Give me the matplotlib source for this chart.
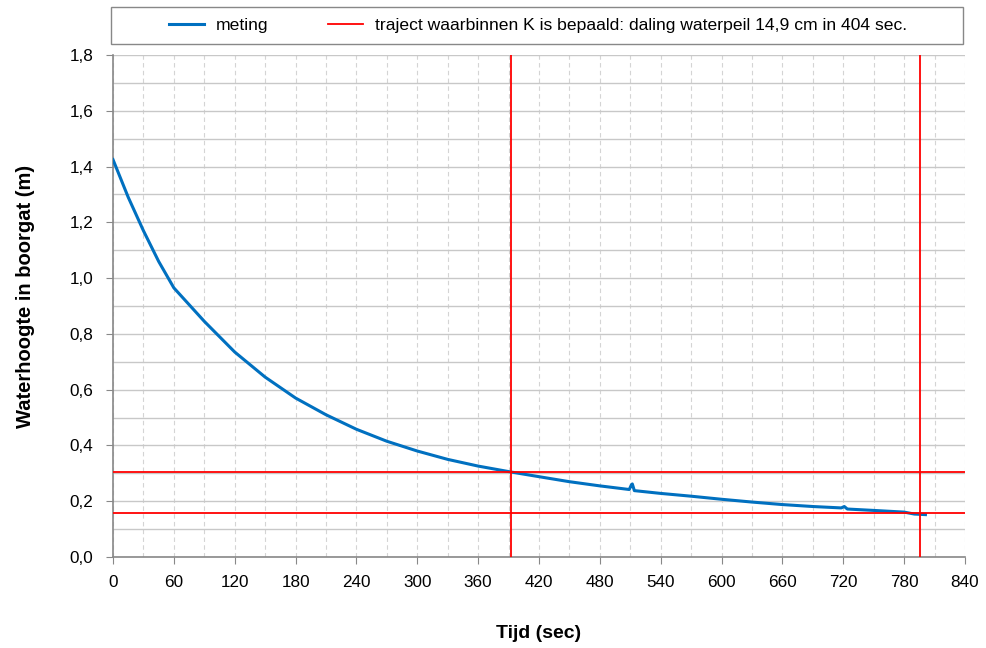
import numpy as np
import matplotlib
matplotlib.use("Agg")
import matplotlib.pyplot as plt
from matplotlib.patches import Rectangle
from matplotlib.ticker import MultipleLocator, FuncFormatter

plt.rcParams['font.family'] = ['Liberation Sans', 'DejaVu Sans']

# meting: tijd (sec) en waterhoogte (m)
tijd = [0, 15, 30, 45, 60, 75, 90, 105, 120, 150, 180, 210, 240, 270, 300, 330, 360,
        392, 420, 450, 480, 509, 511, 512, 514, 540, 570, 600, 630, 660, 690, 718,
        721, 724, 750, 780, 790, 801]
hoogte = [1.425, 1.29, 1.17, 1.06, 0.965, 0.905, 0.845, 0.79, 0.735, 0.645, 0.57, 0.51,
          0.458, 0.415, 0.38, 0.35, 0.326, 0.305, 0.288, 0.27, 0.255, 0.242, 0.258,
          0.262, 0.238, 0.228, 0.218, 0.207, 0.197, 0.188, 0.181, 0.176, 0.181, 0.172,
          0.167, 0.161, 0.154, 0.152]

# traject waarbinnen K is bepaald
t_begin, t_eind = 392, 796
h_begin, h_eind = 0.305, 0.156

W, H = 987, 648
fig, ax = plt.subplots(figsize=(9.87, 6.48), dpi=100)
fig.subplots_adjust(left=113 / W, right=965 / W, top=1 - 55 / H, bottom=1 - 557 / H)

ax.plot(tijd, hoogte, color='#0070c0', lw=2.2, label='meting', zorder=3)
ax.axvline(t_begin, color='#ff0000', lw=1.3, zorder=4,
           label='traject waarbinnen K is bepaald: daling waterpeil 14,9 cm in 404 sec.')
ax.axvline(t_eind, color='#ff0000', lw=1.3, zorder=4)
ax.axhline(h_begin, color='#ff0000', lw=1.3, zorder=4)
ax.axhline(h_eind, color='#ff0000', lw=1.3, zorder=4)

ax.set_xlim(0, 840)
ax.set_ylim(0, 1.8)
ax.xaxis.set_major_locator(MultipleLocator(60))
ax.xaxis.set_minor_locator(MultipleLocator(30))
ax.yaxis.set_major_locator(MultipleLocator(0.2))
ax.yaxis.set_minor_locator(MultipleLocator(0.1))
ax.yaxis.set_major_formatter(FuncFormatter(lambda v, p: '{:.1f}'.format(v).replace('.', ',')))

ax.grid(axis='y', which='both', color='#c8c8c8', lw=1, zorder=0)
ax.grid(axis='x', which='both', color='#d4d4d4', lw=0.8, ls=(0, (4, 3)), zorder=0)
ax.tick_params(which='minor', length=0)
ax.tick_params(which='major', length=5, color='#888888', labelsize=12.3)
ax.tick_params(axis='x', pad=8)
ax.tick_params(axis='y', pad=9)

for s in ['top', 'right']:
    ax.spines[s].set_visible(False)
for s in ['left', 'bottom']:
    ax.spines[s].set_color('#888888')
    ax.spines[s].set_linewidth(1.2)

ax.set_xlabel('Tijd (sec)', fontsize=14, fontweight='bold', labelpad=25)
ax.set_ylabel('Waterhoogte in boorgat (m)', fontsize=14.5, fontweight='bold', labelpad=25)
ax.yaxis.label.set_y(0.52)

# legendakader over de volle breedte, items gecentreerd
fig.patches.append(Rectangle((111 / W, 1 - 44 / H), (963 - 111) / W, 37 / H,
                             transform=fig.transFigure, fill=False,
                             edgecolor='#888888', lw=1))
fig.legend(loc='center', bbox_to_anchor=(538 / W, 1 - 25.5 / H), ncol=2, fontsize=12.6,
           frameon=False, handlelength=2.0, handletextpad=0.7, columnspacing=3.4)

plt.savefig('out.png', dpi=100)
